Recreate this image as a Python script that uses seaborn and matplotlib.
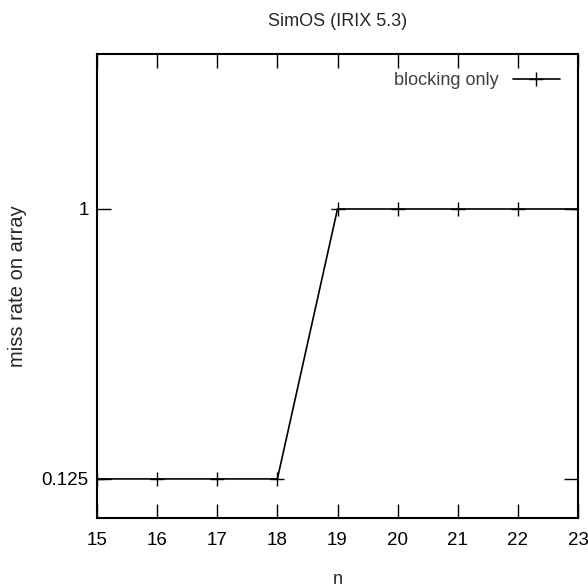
import matplotlib
matplotlib.use("Agg")
import matplotlib.pyplot as plt
import seaborn as sns
import pandas as pd
from matplotlib.ticker import FixedLocator, NullLocator, FixedFormatter

n_values = [15, 16, 17, 18, 19, 20, 21, 22, 23]
miss_rate = [0.125, 0.125, 0.125, 0.125, 1, 1, 1, 1, 1]
series_name = "blocking only"
x_ticks = [15, 16, 17, 18, 19, 20, 21, 22, 23]
y_ticks = [0.125, 1]
y_tick_labels = ["0.125", "1"]

sns.set_style("ticks")
fam = ["Liberation Sans", "DejaVu Sans"]
plt.rcParams['font.family'] = fam

df = pd.DataFrame({"n": n_values, "miss": miss_rate, "series": series_name})

fig = plt.figure(figsize=(5.88, 5.87), dpi=100)
ax = fig.add_axes([97/588, 69/587, 481/588, 464/587])
sns.lineplot(data=df, x="n", y="miss", hue="series", palette=["black"],
             marker="+", markersize=10, markeredgewidth=1.0, markeredgecolor="black",
             linewidth=1.2, ax=ax, legend=True)
ax.set_yscale("log", base=2)
ax.set_xlim(15, 23)
ax.set_ylim(0.0925, 3.30)
ax.xaxis.set_major_locator(FixedLocator(x_ticks))
ax.yaxis.set_major_locator(FixedLocator(y_ticks))
ax.yaxis.set_major_formatter(FixedFormatter(y_tick_labels))
ax.yaxis.set_minor_locator(NullLocator())
ax.tick_params(axis="both", which="major", direction="in", length=10, width=1,
               top=True, right=True, labelsize=13.5, colors="black")
ax.tick_params(axis="x", pad=10)
ax.tick_params(axis="y", pad=6)
for s in ax.spines.values():
    s.set_linewidth(1.5)
    s.set_color("black")
ax.set_xlabel("n", fontsize=13, labelpad=16)
ax.set_ylabel("miss rate on array", fontsize=14.5)
ax.yaxis.set_label_coords((27 - 97) / 481, 0.5)
ax.set_title("SimOS (IRIX 5.3)", fontsize=13, pad=20)
leg = ax.legend(loc="upper right", frameon=False, fontsize=13, markerfirst=False,
                handlelength=2.6, borderaxespad=0.6)
for t in leg.get_texts():
    t.set_color("#404040")
fig.savefig("out.png", dpi=100)
